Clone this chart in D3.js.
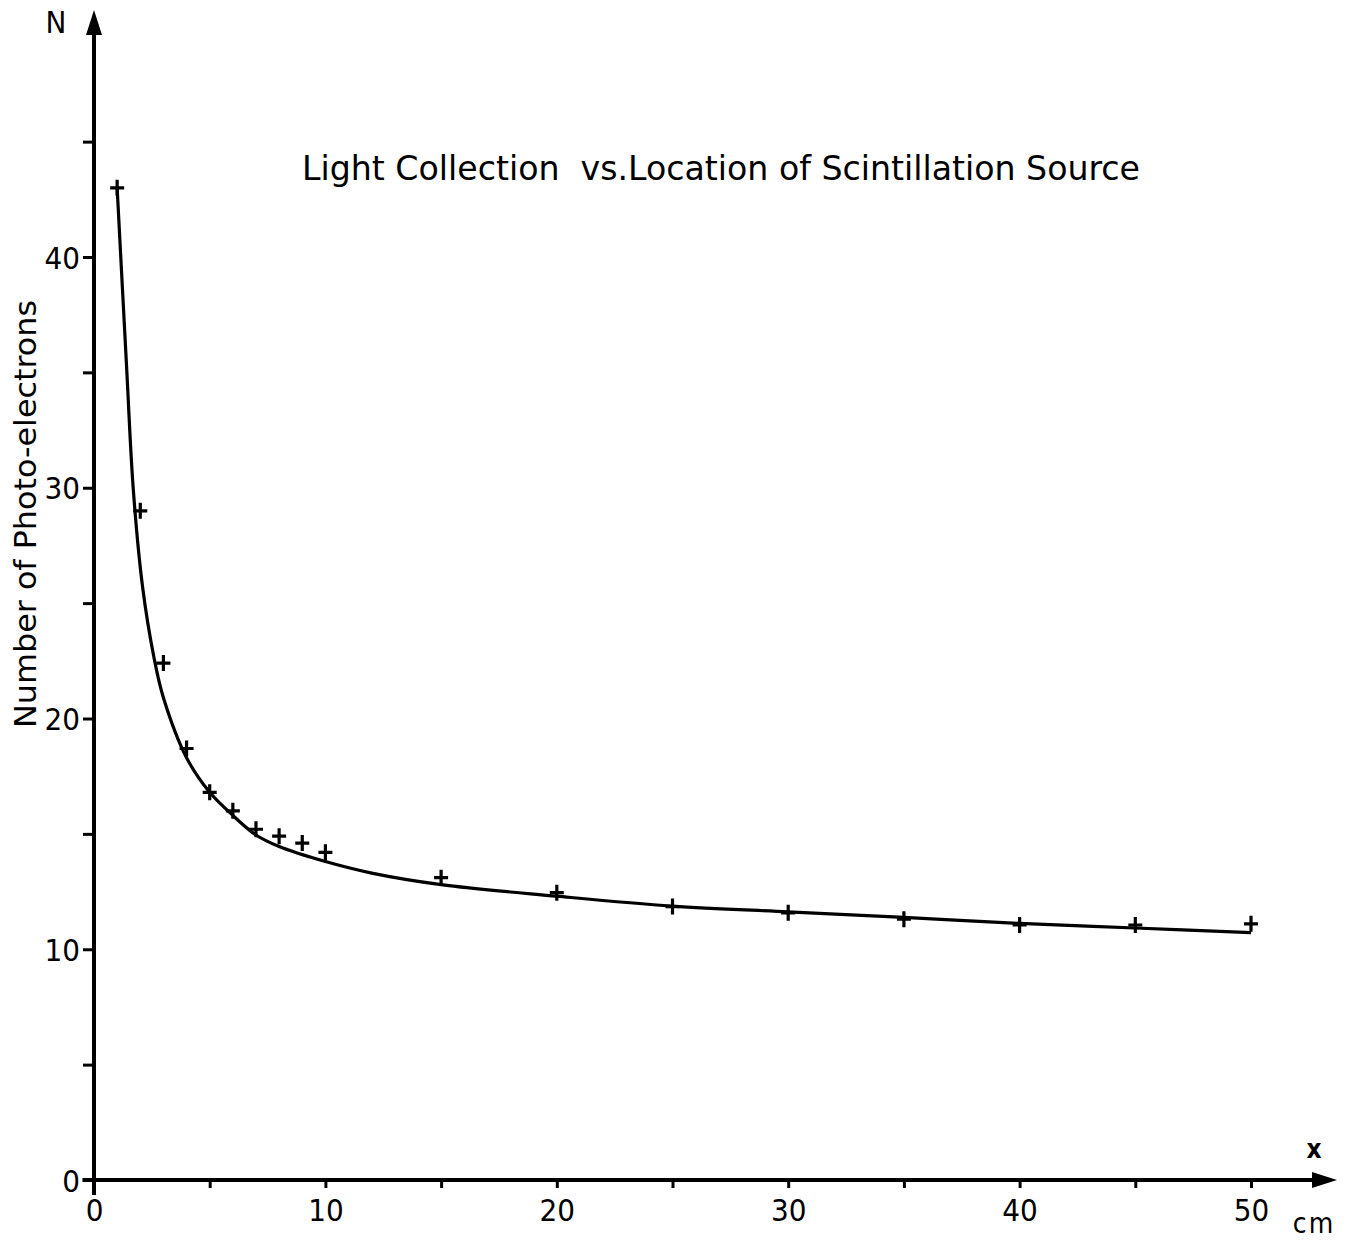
<!DOCTYPE html>
<html><head><meta charset="utf-8">
<script src="https://cdn.jsdelivr.net/npm/d3@7"></script>
<style>
html,body{margin:0;padding:0;background:#fff;}
text{font-family:"DejaVu Sans Condensed","Liberation Sans Narrow","DejaVu Sans",sans-serif;fill:#000;}
</style></head><body>
<svg id="c" width="1355" height="1242"></svg>
<script>
// Measured points (x in cm, N photo-electrons)
const pointX = [1,2,3,4,5,6,7,8,9,10,15,20,25,30,35,40,45,50];
const pointN = [43.0,29.0,22.4,18.7,16.8,16.0,15.2,14.9,14.6,14.2,13.1,12.45,11.85,11.58,11.3,11.05,11.05,11.1];
// Fitted curve
const curveX = [1,1.4,1.7,2.1,2.6,3,4,5,6,7,8,10,12,15,20,25,30,35,40,45,50];
const curveN = [43.0,35.4,29.9,25.7,22.6,20.9,18.3,16.8,15.8,14.95,14.45,13.8,13.3,12.8,12.3,11.87,11.62,11.38,11.12,10.92,10.72];
const xTicks = [0,5,10,15,20,25,30,35,40,45,50];
const yTicks = [0,5,10,15,20,25,30,35,40,45];
const title = "Light Collection  vs.Location of Scintillation Source";
const yLabel = "Number of Photo-electrons";

const svg = d3.select("#c");
const x = d3.scaleLinear().domain([0,50]).range([94,1251]);
const y = d3.scaleLinear().domain([0,40]).range([1180,257]);

// Y axis
const yAx = svg.append("g").attr("transform",`translate(${x(0)},0)`)
  .call(d3.axisLeft(y).tickValues(yTicks).tickSize(11).tickPadding(3)
    .tickFormat(d => d%10===0 ? d : ""));
yAx.select(".domain").remove();
yAx.selectAll("line").attr("stroke","#000").attr("stroke-width",3);
yAx.selectAll("text").attr("font-size",31).attr("font-family",null).attr("dy","0.36em");

// X axis
const xAx = svg.append("g").attr("transform",`translate(0,${y(0)})`)
  .call(d3.axisBottom(x).tickValues(xTicks).tickSize(8).tickPadding(11)
    .tickFormat(d => d%10===0 ? d : ""));
xAx.select(".domain").remove();
xAx.selectAll("line").attr("stroke","#000").attr("stroke-width",3);
xAx.selectAll("text").attr("font-size",31).attr("font-family",null);

// Axis lines with arrows
const ax = svg.append("g");
ax.append("line").attr("x1",x(0)).attr("x2",x(0)).attr("y1",y(-0.65)).attr("y2",30)
  .attr("stroke","#000").attr("stroke-width",4);
ax.append("path").attr("d",`M${x(0)},10 L${x(0)-8},35 L${x(0)+8},35 Z`).attr("fill","#000");
ax.append("line").attr("x1",x(-0.5)).attr("x2",1318).attr("y1",y(0)).attr("y2",y(0))
  .attr("stroke","#000").attr("stroke-width",4);
ax.append("path").attr("d",`M1337,${y(0)} L1312,${y(0)-8} L1312,${y(0)+8} Z`).attr("fill","#000");

// Axis letters
svg.append("text").attr("x",56).attr("y",33).attr("text-anchor","middle").attr("font-size",31).text("N");
svg.append("text").attr("x",1314).attr("y",1158).attr("text-anchor","middle").attr("font-size",26).attr("font-weight","bold").text("x");
svg.append("text").attr("x",1314).attr("y",1233).attr("text-anchor","middle").attr("font-size",28).attr("letter-spacing",2).text("cm");

// Title
svg.append("text").attr("x",302).attr("y",180).attr("font-size",33)
  .attr("textLength",838).attr("lengthAdjust","spacingAndGlyphs").attr("xml:space","preserve")
  .style("white-space","pre").text(title);

// Y label
svg.append("text").attr("transform","translate(36,514) rotate(-90)").attr("text-anchor","middle")
  .attr("font-size",31).attr("textLength",428).attr("lengthAdjust","spacingAndGlyphs").text(yLabel);

// Curve
const curveData = curveX.map((d,i)=>[d,curveN[i]]);
svg.append("path").datum(curveData)
  .attr("d",d3.line().x(d=>x(d[0])).y(d=>y(d[1])).curve(d3.curveCatmullRom.alpha(0.5)))
  .attr("fill","none").attr("stroke","#000").attr("stroke-width",3.2);

// Points (+ markers)
const pts = svg.append("g").selectAll("g").data(pointX.map((d,i)=>[d,pointN[i]])).join("g")
  .attr("transform",d=>`translate(${x(d[0])},${y(d[1])})`);
pts.append("path").attr("d","M-7,0 H7 M0,-8 V8").attr("stroke","#000").attr("stroke-width",3.2);
</script>
</body></html>
